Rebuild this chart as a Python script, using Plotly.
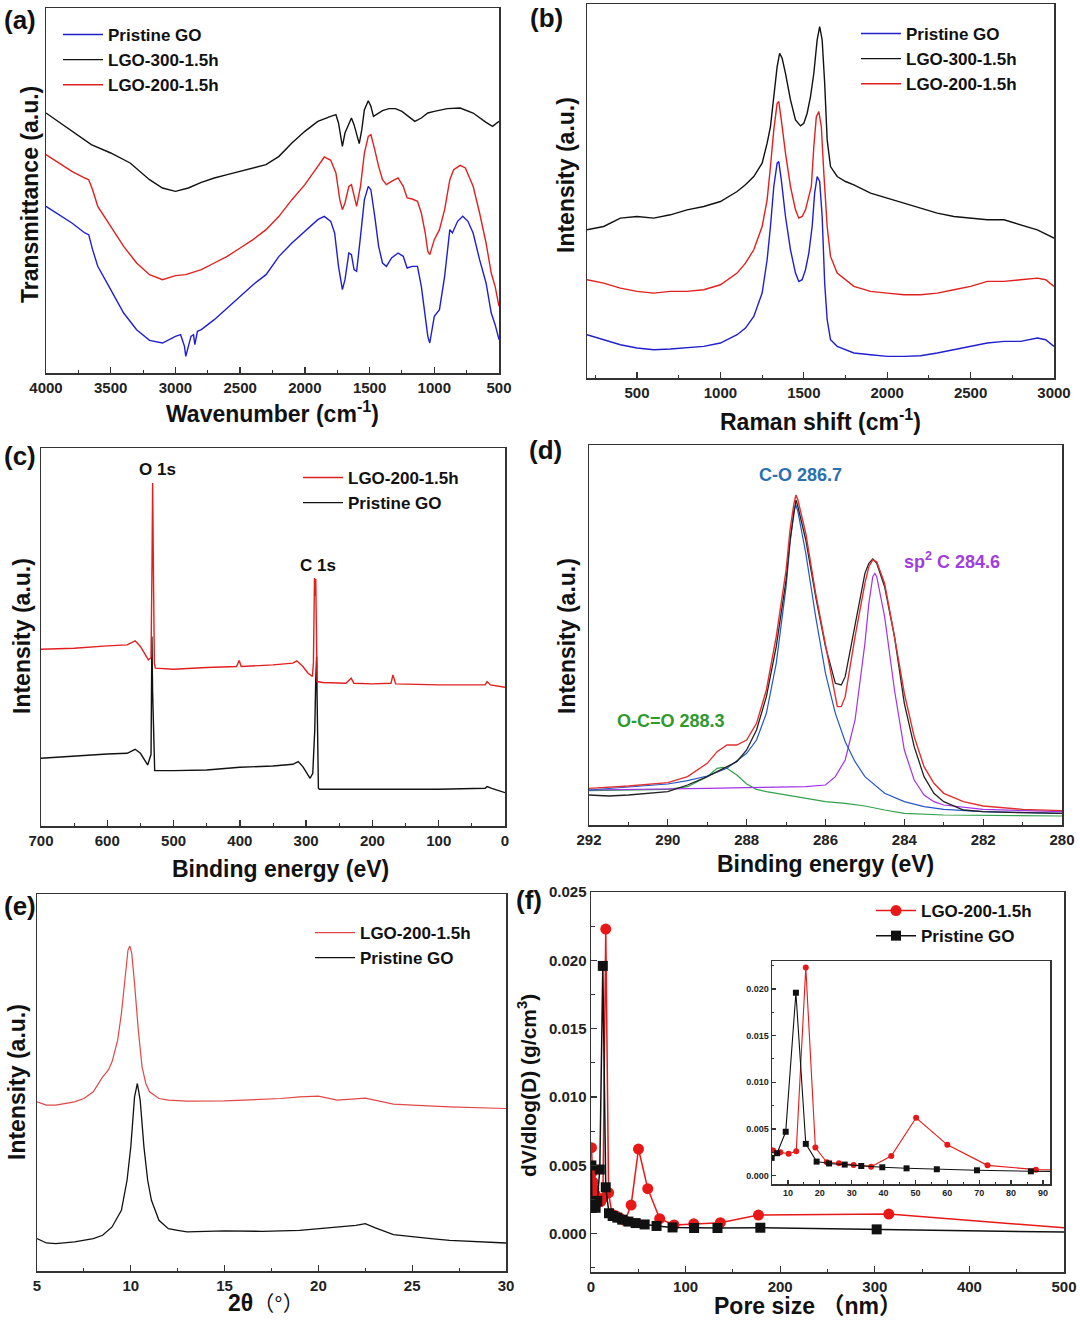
import plotly.graph_objects as go

# ---------------- DATA ----------------
# (a) FTIR  (wavenumber cm-1, transmittance a.u.)
A_GO_WN = [4000,3900,3800,3700,3670,3640,3600,3500,3400,3300,3200,3100,3000,2960,2930,2920,2900,2880,2860,2850,2830,2800,2700,2600,2500,2400,2300,2200,2100,2000,1900,1850,1800,1770,1740,1710,1690,1660,1640,1620,1600,1570,1540,1510,1490,1460,1430,1400,1370,1330,1280,1240,1210,1170,1130,1100,1070,1050,1035,1000,960,920,880,860,820,780,740,700,650,600,560,530,500]
A_GO_T = [500,475,450,420,415,370,320,250,180,130,98,90,110,115,80,50,80,110,115,85,125,130,160,195,230,265,295,350,390,425,460,470,455,420,320,250,280,360,355,310,305,410,520,560,550,470,380,330,320,345,360,350,315,320,320,260,170,110,90,170,190,290,430,420,455,470,455,420,340,270,180,145,100]
A_300_WN = [4000,3800,3650,3500,3350,3200,3100,3000,2900,2800,2700,2600,2500,2400,2300,2200,2100,2000,1900,1800,1760,1740,1720,1710,1690,1660,1640,1620,1600,1580,1560,1540,1510,1490,1470,1450,1400,1350,1300,1250,1200,1150,1100,1050,1000,900,800,700,600,550,500]
A_300_T = [780,725,685,660,630,580,555,545,555,572,585,595,605,615,625,650,690,725,755,770,775,750,710,680,720,750,765,745,715,688,730,790,817,800,770,775,787,793,793,785,770,755,765,780,785,793,795,780,752,740,755]
A_200_WN = [4000,3900,3800,3700,3670,3640,3600,3500,3400,3300,3200,3100,3000,2920,2850,2800,2700,2600,2500,2400,2300,2200,2100,2000,1900,1850,1800,1760,1730,1710,1690,1660,1640,1620,1600,1570,1540,1510,1490,1460,1430,1400,1370,1330,1280,1240,1210,1170,1130,1100,1070,1050,1035,1000,960,920,880,850,800,760,700,650,600,560,530,500]
A_200_T = [655,630,605,585,580,550,500,440,380,330,295,280,292,295,305,310,330,350,375,400,430,470,520,565,620,648,638,600,520,490,510,560,565,530,500,560,660,710,715,670,620,580,565,575,585,560,525,522,515,480,420,365,355,400,430,490,580,610,623,615,560,480,390,300,260,200]

# (b) Raman (Raman shift cm-1, intensity a.u.)
B_300_X = [200,300,400,500,600,700,800,900,1000,1100,1150,1200,1250,1280,1300,1320,1340,1355,1370,1390,1420,1450,1480,1500,1520,1540,1560,1580,1595,1610,1625,1640,1660,1700,1750,1800,1900,2000,2100,2200,2300,2400,2500,2600,2700,2800,2900,3000]
B_300_Y = [445,455,480,485,480,490,505,515,530,560,580,605,645,705,755,855,935,975,960,915,835,775,757,765,795,845,915,1015,1055,1015,885,715,635,605,590,580,555,540,525,510,495,485,480,475,475,460,445,420]
B_200_X = [200,300,400,500,600,700,800,900,1000,1100,1150,1200,1250,1280,1300,1320,1340,1350,1365,1390,1420,1450,1470,1490,1510,1530,1545,1560,1575,1590,1605,1620,1640,1660,1700,1800,1900,2000,2100,2200,2300,2400,2500,2600,2700,2800,2900,2950,3000]
B_200_Y = [295,285,270,260,255,260,260,265,280,315,345,385,455,535,635,745,825,830,775,675,575,505,480,485,505,545,575,695,785,800,755,615,455,365,315,275,260,255,250,250,255,265,275,290,290,295,300,295,275]
B_GO_X = [200,300,400,500,600,700,800,900,1000,1100,1150,1200,1250,1280,1300,1320,1340,1350,1365,1390,1420,1450,1470,1490,1510,1530,1550,1565,1580,1595,1610,1625,1640,1660,1700,1800,1900,2000,2100,2200,2300,2400,2500,2600,2700,2800,2900,2950,3000]
B_GO_Y = [130,115,100,90,85,87,90,95,105,130,150,185,255,355,455,575,645,650,595,485,385,315,290,295,325,375,455,555,605,590,485,285,175,115,95,75,70,65,65,67,75,85,95,105,110,110,120,115,95]

# (c) XPS survey (binding energy eV, intensity a.u.)
C_200_X = [700,650,600,570,558,550,538,534,532.5,531.6,530.5,529,527.5,500,450,405,401,398,350,320,314,305,297,290.5,289,288,287.4,286.3,285.5,284.5,283.5,275,240,232,228,200,172,169,165,100,30,27,22,0]
C_200_Y = [530,533,540,543,555,538,498,505,790,1028,790,488,473,470,475,478,496,478,483,488,495,478,458,448,490,640,743,690,740,590,433,430,428,443,428,426,428,453,426,423,423,433,423,416]
C_GO_X = [700,650,600,570,558,550,539,534,532.7,531.6,530.5,529,528.5,500,450,400,350,320,312,305,298,294,290,287,285.5,284.2,283.5,282.5,281.5,280,200,100,30,27,20,0]
C_GO_Y = [203,210,216,218,230,218,183,215,568,400,300,178,166,166,168,176,180,185,193,178,153,143,158,288,438,508,388,188,113,110,110,110,113,118,113,100]

# (d) C1s high resolution (binding energy eV, intensity a.u.)
D_RAW_X = [292,291.5,291,290.5,290,289.5,289,288.75,288.5,288.25,288,287.75,287.5,287.25,287,286.9,286.8,286.75,286.7,286.5,286.25,286,285.75,285.6,285.5,285.25,285,284.9,284.8,284.7,284.5,284.25,284,283.75,283.5,283.25,283,282.5,282,281,280]
D_RAW_Y = [90,87,90,95,100,120,145,160,175,190,225,285,385,535,735,855,935,975,955,855,685,535,425,420,445,605,755,785,798,785,715,565,365,235,145,95,70,45,40,37,35]
D_FIT_X = [292,291,290,289.5,289,288.75,288.5,288.25,288,287.75,287.5,287.25,287,286.9,286.8,286.75,286.7,286.5,286.25,286,285.8,285.7,285.6,285.5,285.25,285,284.9,284.8,284.7,284.5,284.25,284,283.75,283.5,283.25,283,282.5,282,281,280]
D_FIT_Y = [110,117,127,145,185,220,240,240,255,305,405,565,765,885,965,990,975,875,695,535,415,355,355,385,565,725,775,795,790,725,565,395,265,175,125,95,70,57,47,43]
D_CO_X = [292,291,290,289.5,289,288.5,288,287.75,287.5,287.25,287,286.9,286.8,286.75,286.7,286.5,286.25,286,285.75,285.5,285.25,285,284.5,284,283.5,283,282,280]
D_CO_Y = [105,113,123,133,147,170,215,255,335,485,715,845,945,960,940,815,625,455,335,250,190,145,95,70,55,47,40,35]
D_SP2_X = [292,290,289,288,287,286.5,286,285.75,285.5,285.25,285,284.9,284.8,284.75,284.7,284.5,284.25,284,283.75,283.5,283.25,283,282,281,280]
D_SP2_Y = [105,107,110,112,113,115,120,145,195,315,545,665,745,755,745,625,405,225,135,90,70,60,47,43,40]
D_OCO_X = [292,290,289.5,289,288.75,288.6,288.5,288.25,288,287.75,287.5,287,286.5,286,285.5,285,284.5,284,283,282,280]
D_OCO_Y = [103,107,115,145,170,173,170,150,123,107,100,90,80,70,65,57,45,35,30,29,27]

# (e) XRD (2 theta deg, intensity a.u.)
E_200_X = [5,5.5,6,7,7.5,8,8.5,8.8,9,9.3,9.5,9.7,9.85,9.95,10.05,10.2,10.4,10.6,10.8,11,11.5,12,13,15,17,18,19,20,21,22,22.5,23,24,25,27,30]
E_200_Y = [507,497,497,507,517,537,582,602,627,692,772,892,962,974,952,862,722,612,562,537,517,512,509,510,514,517,522,524,512,515,518,512,500,497,492,487]
E_GO_X = [5,5.5,6,7,8,8.5,9,9.5,9.8,10,10.2,10.35,10.5,10.7,10.9,11.1,11.5,12,12.5,13,15,17,19,20,21,22,22.5,23,24,25,26,27,30]
E_GO_Y = [97,84,82,87,97,107,132,182,272,372,522,562,512,372,272,212,152,127,122,117,120,119,122,127,130,137,142,130,109,102,97,92,84]

# (f) pore size distribution (nm, dV/dlog(D) g/cm3)
F_200_D = [0.5,1.2,2.0,3.0,4.2,5.35,7.6,10.2,12.6,15.6,18.6,22.2,26.0,30.6,36.1,42.4,50.2,60.0,72.6,87.8,108.6,136.7,177.0,314.8,600]
F_200_V = [0.0063,0.0045,0.0038,0.0033,0.0029,0.0027,0.0025,0.00235,0.0026,0.0223,0.0030,0.00143,0.00132,0.00114,0.00096,0.0021,0.0062,0.0033,0.0011,0.00064,0.00073,0.00081,0.00137,0.00144,-0.0001]
F_GO_D = [0.4,1.0,2.5,4.9,6.6,9.3,12.5,15.6,19.0,22.9,27.8,33.0,39.6,47.2,56.7,69.3,86.2,109,133.7,179,302,600]
F_GO_V = [0.0050,0.0019,0.0023,0.0019,0.0024,0.0047,0.0196,0.0034,0.0015,0.0013,0.00118,0.00103,0.00089,0.00078,0.00068,0.00057,0.00046,0.00042,0.00042,0.00044,0.00032,0.00002]

NAME_GO = "Pristine GO"
NAME_300 = "LGO-300-1.5h"
NAME_200 = "LGO-200-1.5h"

# ---------------- STYLE ----------------
W, H = 1080, 1326
FONT = "Liberation Sans, Arial, Noto Sans CJK SC, sans-serif"
BLUE = "#1f1fd0"
RED = "#e0201e"
BLACK = "#111111"


def dx(px):
    return px / W


def dy(py):
    return 1 - py / H


fig = go.Figure()


def line(x, y, color, name, xa, ya, legend=None, width=1.4, show=True):
    fig.add_trace(go.Scatter(x=x, y=y, mode="lines", name=name,
                             line=dict(color=color, width=width),
                             xaxis=xa, yaxis=ya, legend=legend or "legend",
                             showlegend=show and legend is not None))


# (a)
line(A_GO_WN, A_GO_T, BLUE, NAME_GO, "x", "y", "legend")
line(A_300_WN, A_300_T, BLACK, NAME_300, "x", "y", "legend")
line(A_200_WN, A_200_T, RED, NAME_200, "x", "y", "legend")
# (b)
line(B_GO_X, B_GO_Y, BLUE, NAME_GO, "x2", "y2", "legend2")
line(B_300_X, B_300_Y, BLACK, NAME_300, "x2", "y2", "legend2")
line(B_200_X, B_200_Y, RED, NAME_200, "x2", "y2", "legend2")
# (c)
line(C_GO_X, C_GO_Y, BLACK, NAME_GO, "x3", "y3", "legend3")
line(C_200_X, C_200_Y, RED, NAME_200, "x3", "y3", "legend3")
# (d)
line(D_OCO_X, D_OCO_Y, "#32a04a", "O-C=O", "x4", "y4", None, 1.2)
line(D_SP2_X, D_SP2_Y, "#a232e6", "sp2 C", "x4", "y4", None, 1.2)
line(D_CO_X, D_CO_Y, "#2356c8", "C-O", "x4", "y4", None, 1.2)
line(D_RAW_X, D_RAW_Y, "#222222", "raw", "x4", "y4", None, 1.3)
line(D_FIT_X, D_FIT_Y, "#e03030", "fit", "x4", "y4", None, 1.4)
# (e)
line(E_GO_X, E_GO_Y, BLACK, NAME_GO, "x5", "y5", "legend5", 1.3)
line(E_200_X, E_200_Y, "#e04848", NAME_200, "x5", "y5", "legend5", 1.2)


# (f) main and inset
def pts(x, y, color, sym, size, name, xa, ya, legend, show, lw):
    fig.add_trace(go.Scatter(x=x, y=y, mode="lines+markers", name=name,
                             line=dict(color=color, width=lw),
                             marker=dict(color=color, symbol=sym, size=size),
                             xaxis=xa, yaxis=ya, legend=legend, showlegend=show))


pts(F_200_D, F_200_V, "#e81818", "circle", 11, NAME_200, "x6", "y6", "legend6", True, 1.5)
pts(F_GO_D, F_GO_V, BLACK, "square", 10, NAME_GO, "x6", "y6", "legend6", True, 1.5)
pts(F_200_D, F_200_V, "#e81818", "circle", 6, NAME_200, "x7", "y7", "legend6", False, 1.1)
pts(F_GO_D, F_GO_V, BLACK, "square", 6, NAME_GO, "x7", "y7", "legend6", False, 1.1)


# ---------------- AXES ----------------
def xax(dom, rng, dtick, minor, fsize=15):
    return dict(domain=[dx(dom[0]), dx(dom[1])], range=rng, autorange=False,
                automargin=False,
                showline=True, linecolor="#333", linewidth=1.5, mirror=True,
                ticks="inside", ticklen=6, tickwidth=1.3, tickcolor="#333",
                dtick=dtick, tick0=0, showgrid=False, zeroline=False,
                tickfont=dict(family=FONT, size=fsize, color="#222", weight="bold"),
                minor=dict(dtick=minor, tick0=0, ticks="inside", ticklen=3.5,
                           tickwidth=1, tickcolor="#333", showgrid=False))


def yax_blank(dom, rng, anchor):
    return dict(domain=[dy(dom[1]), dy(dom[0])], range=rng, autorange=False,
                automargin=False,
                showline=True, linecolor="#333", linewidth=1.5, mirror=True,
                ticks="", showticklabels=False, showgrid=False, zeroline=False,
                anchor=anchor)


layout = dict(template="none", width=W, height=H,
              margin=dict(l=0, r=0, t=0, b=0, pad=0, autoexpand=False),
              paper_bgcolor="white", plot_bgcolor="white",
              font=dict(family=FONT, color="#111"))

layout["xaxis"] = xax((46, 499), [4000, 500], 500, 250)
layout["xaxis"]["anchor"] = "y"
layout["yaxis"] = yax_blank((8, 373), [0, 1095], "x")
layout["xaxis2"] = xax((587, 1054), [200, 3000], 500, 250)
layout["xaxis2"]["anchor"] = "y2"
layout["yaxis2"] = yax_blank((4, 378), [0, 1123], "x2")
layout["xaxis3"] = xax((41, 505), [700, 0], 100, 50)
layout["xaxis3"]["anchor"] = "y3"
layout["yaxis3"] = yax_blank((448, 826), [0, 1133], "x3")
layout["xaxis4"] = xax((589, 1062), [292, 280], 2, 1)
layout["xaxis4"]["anchor"] = "y4"
layout["yaxis4"] = yax_blank((445, 825), [0, 1140], "x4")
layout["xaxis5"] = xax((37, 506), [5, 30], 5, 2.5)
layout["xaxis5"]["anchor"] = "y5"
layout["yaxis5"] = yax_blank((894, 1271), [0, 1130], "x5")
layout["xaxis6"] = xax((591, 1064), [0, 500], 100, 50)
layout["xaxis6"]["anchor"] = "y6"
y6 = xax((0, 1), [-0.0028, 0.02501], 0.005, 0.0025)
y6["domain"] = [dy(1272), dy(892)]
y6["anchor"] = "x6"
y6["tickformat"] = ".3f"
layout["yaxis6"] = y6
x7 = xax((772, 1050), [5, 92.2], 10, 5, 9)
x7["anchor"] = "y7"
x7["ticklen"] = 4
x7["minor"]["ticklen"] = 2
layout["xaxis7"] = x7
y7 = xax((0, 1), [-0.0009, 0.023], 0.005, 0.0025, 9)
y7["domain"] = [dy(1184), dy(961)]
y7["anchor"] = "x7"
y7["tickformat"] = ".3f"
y7["ticklen"] = 4
y7["minor"]["ticklen"] = 2
layout["yaxis7"] = y7

# ---------------- LEGENDS ----------------
LEGFONT = dict(family=FONT, size=17, color="#111", weight="bold")


def leg(px, py):
    return dict(x=dx(px), y=dy(py), xanchor="left", yanchor="top",
                bgcolor="rgba(0,0,0,0)", font=LEGFONT, itemwidth=40,
                tracegroupgap=0, borderwidth=0)


layout["legend"] = leg(58, 17)
layout["legend2"] = leg(856, 16)
layout["legend3"] = leg(298, 460)
layout["legend5"] = leg(310, 915)
layout["legend6"] = leg(871, 893)
layout["legend3"]["traceorder"] = "reversed"
layout["legend5"]["traceorder"] = "reversed"
layout["legend6"]["traceorder"] = "normal"

fig.update_layout(**layout)


# ---------------- TEXT ----------------
def txt(x, y, s, size=23, angle=0, color="#111", xanchor="center"):
    fig.add_annotation(x=dx(x), y=dy(y), xref="paper", yref="paper", text=s,
                       showarrow=False, textangle=angle, xanchor=xanchor,
                       yanchor="middle",
                       font=dict(family=FONT, size=size, color=color, weight="bold"))


# panel labels
for lab, x, y in [("(a)", 2, 20), ("(b)", 528, 18), ("(c)", 2, 456),
                  ("(d)", 527, 450), ("(e)", 2, 906), ("(f)", 514, 900)]:
    txt(x, y, lab, 26, xanchor="left")

# axis titles
txt(272, 412, "Wavenumber (cm<sup>-1</sup>)")
txt(30, 195, "Transmittance (a.u.)", angle=-90)
txt(820, 420, "Raman shift (cm<sup>-1</sup>)")
txt(566, 175, "Intensity (a.u.)", angle=-90)
txt(280, 869, "Binding energy (eV)")
txt(22, 636, "Intensity (a.u.)", angle=-90)
txt(825, 864, "Binding energy (eV)")
txt(567, 636, "Intensity (a.u.)", angle=-90)
txt(266, 1303, "2θ<span style='font-size:21px;font-weight:normal'>（°）</span>")
txt(17, 1082, "Intensity (a.u.)", angle=-90)
txt(808, 1306, "Pore size （nm）")
txt(527, 1086, "dV/dlog(D) (g/cm<sup>3</sup>)", 21, angle=-90)

# peak labels
txt(157, 469, "O 1s", 17)
txt(318, 565, "C 1s", 17)
txt(800, 475, "C-O 286.7", 18, color="#2a6fb0")
txt(952, 560, "sp<sup>2</sup> C 284.6", 18, color="#a03de0")
txt(671, 721, "O-C=O 288.3", 18, color="#2e9a2e")

fig.write_html(
    "out.html",
    config={"displayModeBar": False, "staticPlot": True},
    post_script="document.body.style.margin='0';document.body.style.overflow='hidden';",
)
